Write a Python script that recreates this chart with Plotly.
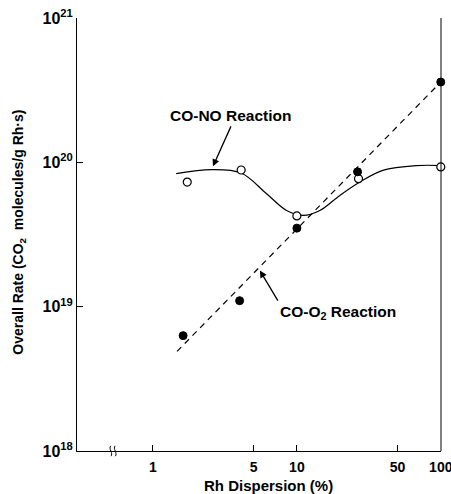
import plotly.graph_objects as go
import math

# Data
dispersion_no = [1.73, 4.1, 10.0, 26.8, 100]
rate_no = [7.3e19, 8.85e19, 4.25e19, 7.7e19, 9.3e19]
dispersion_o2 = [1.62, 4.0, 10.0, 26.4, 100]
rate_o2 = [6.3e18, 1.1e19, 3.5e19, 8.6e19, 3.6e20]

# Smooth CO-NO curve (hand-drawn fit)
curve_x = [1.45, 2.56, 4.1, 6.16, 8.48, 11.06, 14.45, 19.9, 27.4, 39.5, 67.8, 100]
curve_y = [8.35e19, 8.9e19, 8.43e19, 6.06e19, 4.64e19, 4.29e19, 4.64e19, 5.9e19,
           7.3e19, 8.8e19, 9.5e19, 9.5e19]

# Dashed CO-O2 fit line
dash_x = [1.47, 100]
dash_y = [4.9e18, 3.6e20]

x_ticks = [1, 5, 10, 50, 100]
x_ticktext = ["1", "5", "10", "50", "100"]
y_ticks = [1e18, 1e19, 1e20, 1e21]
y_ticktext = ["10<sup>18</sup>", "10<sup>19</sup>", "10<sup>20</sup>", "10<sup>21</sup>"]

FONT = "Liberation Sans"

fig = go.Figure()
fig.add_trace(go.Scatter(x=curve_x, y=curve_y, mode="lines",
                         line=dict(color="black", width=1.2, shape="spline", smoothing=1.0),
                         showlegend=False, hoverinfo="skip"))
fig.add_trace(go.Scatter(x=dash_x, y=dash_y, mode="lines",
                         line=dict(color="black", width=1.2, dash="6px,5px"),
                         showlegend=False, hoverinfo="skip"))
fig.add_trace(go.Scatter(x=dispersion_no, y=rate_no, mode="markers",
                         marker=dict(symbol="circle", size=8, color="white",
                                     line=dict(color="black", width=1.2)),
                         showlegend=False, cliponaxis=False))
fig.add_trace(go.Scatter(x=dispersion_o2, y=rate_o2, mode="markers",
                         marker=dict(symbol="circle", size=8, color="black",
                                     line=dict(color="black", width=1)),
                         showlegend=False, cliponaxis=False))

fig.update_layout(
    width=451, height=494,
    margin=dict(l=77, r=10, t=18, b=43, autoexpand=False),
    paper_bgcolor="white", plot_bgcolor="white",
    font=dict(family=FONT, color="black"),
    xaxis=dict(type="log", range=[-0.528, 2.0015], tickvals=x_ticks, ticktext=x_ticktext,
               ticks="inside", ticklen=6, tickcolor="black", showgrid=False, zeroline=False,
               showline=True, linecolor="black", linewidth=1, ticklabelstandoff=3,
               ticklabeloverflow="allow", automargin=False,
               tickfont=dict(family=FONT, size=14, color="black", weight="bold")),
    yaxis=dict(type="log", range=[18, 21], tickvals=y_ticks, ticktext=y_ticktext,
               ticks="inside", ticklen=6, tickcolor="black", showgrid=False, zeroline=False,
               showline=True, linecolor="black", linewidth=1, ticklabeloverflow="allow",
               automargin=False,
               tickfont=dict(family=FONT, size=16, color="black", weight="bold")),
)

# Right frame line
fig.add_shape(type="line", xref="paper", yref="paper", x0=1, x1=1, y0=0, y1=1,
              line=dict(color="black", width=1))

# Axis break on x-axis
for xb in [0.093, 0.105]:
    fig.add_shape(type="path", xref="paper", yref="paper",
                  path=f"M {xb} -0.012 C {xb+0.008} -0.006, {xb-0.008} 0.006, {xb} 0.012",
                  line=dict(color="black", width=1))

# Axis titles
fig.add_annotation(text="Overall Rate (CO<sub>2</sub>  molecules/g Rh·s)", xref="paper", yref="paper",
                   x=-0.16, y=0.506, xanchor="center", textangle=-90, showarrow=False,
                   font=dict(family=FONT, size=14, color="black", weight="bold"))
fig.add_annotation(text="Rh Dispersion (%)", xref="paper", yref="paper",
                   x=0.525, y=0, yshift=-34, yanchor="middle", showarrow=False,
                   font=dict(family=FONT, size=15, color="black", weight="bold"))

# Labels with arrows
fig.add_annotation(text="CO-NO Reaction", xref="x", yref="y",
                   x=math.log10(2.61), y=19.972, ax=18, ay=-40,
                   xanchor="center", yanchor="bottom",
                   showarrow=True, arrowhead=2, arrowsize=1.1,
                   arrowwidth=1.3, arrowcolor="black",
                   font=dict(family=FONT, size=15.5, color="black", weight="bold"))
fig.add_annotation(text="CO-O<sub>2</sub> Reaction", xref="x", yref="y",
                   x=math.log10(5.53), y=19.25, ax=18, ay=30,
                   xanchor="left", yanchor="top",
                   showarrow=True, arrowhead=2, arrowsize=1.1,
                   arrowwidth=1.3, arrowcolor="black",
                   font=dict(family=FONT, size=15.5, color="black", weight="bold"))

fig.write_html("out.html")
